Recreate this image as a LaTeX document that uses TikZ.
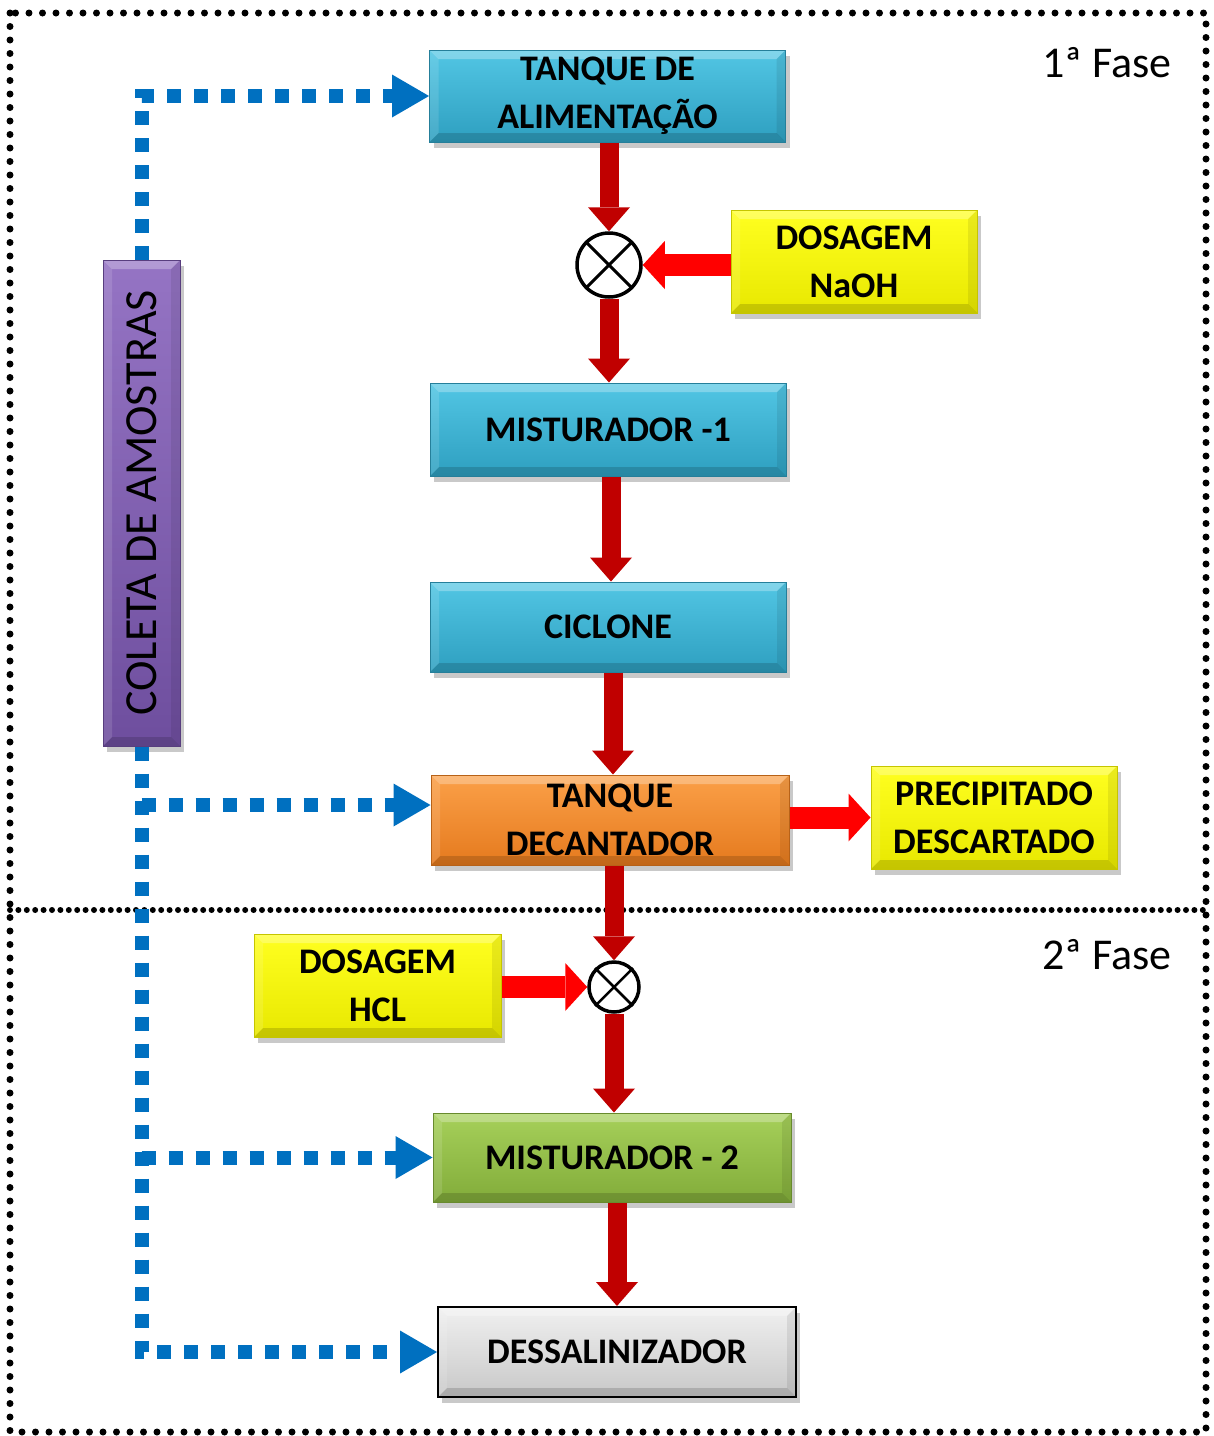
\documentclass[tikz,border=0pt]{standalone}
\usepackage{fontspec}
\setmainfont{Carlito}
\usepackage{graphicx}
\usetikzlibrary{arrows.meta,shadows,calc}

\definecolor{cyanA}{HTML}{52C6E4}
\definecolor{cyanB}{HTML}{2E9FC0}
\definecolor{orA}{HTML}{FBA048}
\definecolor{orB}{HTML}{E57A1E}
\definecolor{yeA}{HTML}{FFFF20}
\definecolor{yeB}{HTML}{E8E800}
\definecolor{grA}{HTML}{A6D05A}
\definecolor{grB}{HTML}{82AC3A}
\definecolor{gyA}{HTML}{F0F0F0}
\definecolor{gyB}{HTML}{C8C8C8}
\definecolor{puA}{HTML}{9574C4}
\definecolor{puB}{HTML}{6E4E9E}
\definecolor{darkred}{HTML}{C00000}
\definecolor{brightred}{HTML}{FF0000}
\definecolor{flowblue}{HTML}{0070C0}

\tikzset{
  bevel/.style={path picture={
    \fill[white,opacity=0.28] (path picture bounding box.north west) -- (path picture bounding box.north east)
      -- ([xshift=-9pt,yshift=-9pt]path picture bounding box.north east) -- ([xshift=9pt,yshift=-9pt]path picture bounding box.north west) -- cycle;
    \fill[black,opacity=0.15] (path picture bounding box.south west) -- (path picture bounding box.south east)
      -- ([xshift=-9pt,yshift=9pt]path picture bounding box.south east) -- ([xshift=9pt,yshift=9pt]path picture bounding box.south west) -- cycle;
    \fill[white,opacity=0.12] (path picture bounding box.north west) -- ([xshift=9pt,yshift=-9pt]path picture bounding box.north west)
      -- ([xshift=9pt,yshift=9pt]path picture bounding box.south west) -- (path picture bounding box.south west) -- cycle;
    \fill[black,opacity=0.08] (path picture bounding box.north east) -- ([xshift=-9pt,yshift=-9pt]path picture bounding box.north east)
      -- ([xshift=-9pt,yshift=9pt]path picture bounding box.south east) -- (path picture bounding box.south east) -- cycle;
  }},
  procbox/.style={rectangle, inner sep=0pt, align=center, line width=1pt,
    font=\bfseries\fontsize{36}{48}\selectfont,
    drop shadow={shadow xshift=4pt, shadow yshift=-6pt, opacity=0.35, fill=black!60},
    bevel},
  cyanbox/.style={procbox, top color=cyanA, bottom color=cyanB, draw=cyanB!80!black,
    minimum width=356pt, minimum height=92pt},
  yellowbox/.style={procbox, top color=yeA, bottom color=yeB, draw=yeB!85!black,
    minimum width=246pt, minimum height=103pt},
  mixer/.style={circle, draw=black, fill=white, line width=3.5pt, inner sep=0pt},
  darkflow/.style={draw=darkred, line width=19pt,
    -{Triangle[width=42pt,length=24pt,line width=0pt]}},
  redflow/.style={draw=brightred, line width=22pt,
    -{Triangle[width=48pt,length=22pt,line width=0pt]}},
  bluedash/.style={draw=flowblue, line width=14pt, dash pattern=on 14pt off 13pt,
    -{Triangle[width=43pt,length=37pt,line width=0pt]}},
  dotborder/.style={draw=black, line width=7pt, line cap=round, dash pattern=on 0pt off 13.5pt},
  dotdivider/.style={draw=black, line width=6pt, line cap=round, dash pattern=on 0pt off 8.4pt},
  faselabel/.style={font=\fontsize{44}{50}\selectfont, inner sep=0pt}
}

\begin{document}
\begin{tikzpicture}[x=1pt,y=-1pt]
\useasboundingbox (0,0) rectangle (1214,1436);
\fill[white] (0,0) rectangle (1214,1436);

% frame and phase divider
\draw[dotborder] (10,13) rectangle (1206,1432);
\draw[dotdivider] (10,910) -- (1206,910);

% labels
\node[faselabel] (f1) at (1107,63) {1ª Fase};
\node[faselabel] (f2) at (1107,955) {2ª Fase};

% sample collection bar
\node[procbox, top color=puA, bottom color=puB, draw=puB!80!black, minimum width=77pt, minimum height=486pt,
  font=\fontsize{46}{50}\selectfont] (coleta) at (141.5,503) {\rotatebox{90}{COLETA DE AMOSTRAS}};

% process boxes
\node[cyanbox] (tanque) at (607.5,96) {TANQUE DE\\ALIMENTAÇÃO};
\node[mixer, minimum size=64pt] (m1) at (609,265) {};
\node[yellowbox] (naoh) at (854,261.5) {DOSAGEM\\NaOH};
\node[cyanbox, minimum height=93pt] (mist1) at (608,429.5) {MISTURADOR -1};
\node[cyanbox, minimum height=90pt] (ciclone) at (608,627) {CICLONE};
\node[procbox, top color=orA, bottom color=orB, draw=orB!80!black, minimum width=358pt, minimum height=90pt] (decant) at (610,820) {TANQUE\\DECANTADOR};
\node[yellowbox] (precip) at (994,817.5) {PRECIPITADO\\DESCARTADO};
\node[mixer, minimum size=50pt] (m2) at (614,987) {};
\node[yellowbox, minimum width=247pt] (hcl) at (377.5,985.5) {DOSAGEM\\HCL};
\node[procbox, top color=grA, bottom color=grB, draw=grB!80!black, minimum width=358pt, minimum height=89pt] (mist2) at (612,1157.5) {MISTURADOR - 2};
\node[procbox, top color=gyA, bottom color=gyB, draw=black, line width=2pt, minimum width=358pt, minimum height=90pt] (dessal) at (617,1352) {DESSALINIZADOR};

% mixer crosses
\draw[line width=3pt] (m1.north west) -- (m1.south east);
\draw[line width=3pt] (m1.north east) -- (m1.south west);
\draw[line width=2.5pt] (m2.north west) -- (m2.south east);
\draw[line width=2.5pt] (m2.north east) -- (m2.south west);

% main flow (dark red)
\draw[darkflow] (tanque.south -| m1.north) -- (m1.north);
\draw[darkflow] (m1.south) -- (m1.south |- mist1.north);
\draw[darkflow] ([xshift=3pt]mist1.south) -- ([xshift=3pt]mist1.south |- ciclone.north);
\draw[darkflow] ([xshift=5pt]ciclone.south) -- ([xshift=5pt]ciclone.south |- decant.north);
\draw[darkflow] (decant.south -| m2.north) -- (m2.north);
\draw[darkflow] (m2.south) -- (m2.south |- mist2.north);
\draw[darkflow] (mist2.south -| dessal.north) -- (dessal.north);

% dosing / discharge (bright red)
\draw[redflow] (naoh.west |- m1.east) -- (m1.east);
\draw[redflow] (decant.east |- precip.west) -- (precip.west);
\draw[redflow] (hcl.east |- m2.west) -- (m2.west);

% sampling lines (blue)
\coordinate (decin) at ($(decant.west)+(0,-15)$);
\draw[bluedash] (coleta.north) |- (tanque.west);
\draw[bluedash] (coleta.south) |- (dessal.west);
\draw[bluedash] (coleta.south |- decin) -- (decin);
\draw[bluedash] (coleta.south |- mist2.west) -- (mist2.west);
\end{tikzpicture}
\end{document}
